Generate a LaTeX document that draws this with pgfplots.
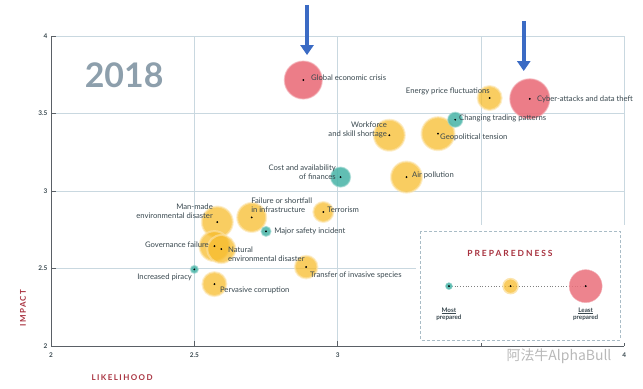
\documentclass[border=0pt]{standalone}
\usepackage{fontspec}
\setmainfont{Lato}
\newfontfamily\cjk{Noto Sans CJK SC}
\usepackage{pgfplots}
\usepackage{pgfplotstable}
\pgfplotsset{compat=1.18}
\usetikzlibrary{arrows.meta}
\definecolor{gridc}{HTML}{C9D8E0}
\definecolor{axc}{HTML}{5A6066}
\definecolor{txt}{HTML}{38474E}
\definecolor{redb}{HTML}{EA6F7B}
\definecolor{yelb}{HTML}{F7BC2C}
\definecolor{teab}{HTML}{45B3A6}
\definecolor{lab}{HTML}{A8323F}
\definecolor{yr}{HTML}{8D9FAC}
\definecolor{arr}{HTML}{3B6BC4}
\definecolor{boxc}{HTML}{A9BCC6}

\pgfplotstableread{
x y r
2.88 3.716 19
3.67 3.595 20
}\redtab
\pgfplotstableread{
x y r
3.53 3.60 12
3.18 3.36 15.5
3.35 3.37 16.5
3.24 3.09 15.5
2.58 2.80 15.5
2.70 2.83 14.5
2.95 2.865 10
2.57 2.645 15
2.594 2.626 14
2.89 2.51 11.3
2.57 2.40 12
}\yeltab
\pgfplotstableread{
x y r
3.41 3.46 7.5
3.01 3.09 10
2.75 2.74 5
2.50 2.495 4
}\teatab
\pgfplotstableread{
x y r c
3.388 2.387 3.5 0
3.603 2.387 7.5 1
3.865 2.387 16.5 2
}\legtab

\newcommand{\lbl}{\fontsize{7.7}{9}\selectfont}
\tikzset{lb/.style={font=\lbl, text=txt, inner sep=0pt}}

\begin{document}
\begin{tikzpicture}
\begin{axis}[
  set layers=standard,
  scale only axis, width=573bp, height=310bp,
  xmin=2, xmax=4, ymin=2, ymax=4,
  xtick={2,2.5,3,3.5,4}, ytick={2,2.5,3,3.5,4},
  xticklabels={2,2.5,3,,4}, yticklabels={2,2.5,3,3.5,4},
  grid=major, major grid style={gridc, line width=0.8bp},
  axis x line*=bottom, axis y line*=left,
  axis line style={axc, line width=0.9bp, -},
  tick align=inside, major tick length=5bp,
  tick style={axc, line width=0.8bp},
  tick label style={font=\bfseries\fontsize{6.5}{7}\selectfont, text=txt},
  xticklabel style={yshift=-3bp},
  clip=false,
]
\path (axis cs:1.822,1.729) rectangle (axis cs:4.065,4.232);

% bubbles
\addplot[scatter, only marks, mark=*,
  scatter/use mapped color={draw=yelb!40!white, fill=yelb, line width=2bp, fill opacity=0.75, draw opacity=0.6},
  visualization depends on={\thisrow{r}\as\rr},
  scatter/@pre marker code/.append style={/tikz/mark size=\rr bp}] table {\yeltab};
\addplot[scatter, only marks, mark=*,
  scatter/use mapped color={draw=teab!50!white, fill=teab, line width=1.2bp, fill opacity=0.85, draw opacity=0.6},
  visualization depends on={\thisrow{r}\as\rr},
  scatter/@pre marker code/.append style={/tikz/mark size=\rr bp}] table {\teatab};
\addplot[scatter, only marks, mark=*,
  scatter/use mapped color={draw=redb!50!white, fill=redb, line width=1.2bp, fill opacity=0.9, draw opacity=0.6},
  visualization depends on={\thisrow{r}\as\rr},
  scatter/@pre marker code/.append style={/tikz/mark size=\rr bp}] table {\redtab};
\addplot[only marks, mark=*, mark size=0.7bp, black] table {\yeltab};
\addplot[only marks, mark=*, mark size=0.7bp, black] table {\teatab};
\addplot[only marks, mark=*, mark size=0.7bp, black] table {\redtab};

% legend box
\fill[white] (axis cs:3.273,2.781) rectangle (axis cs:4.01,2.019);
\draw[boxc, line width=0.9bp, dash pattern=on 3bp off 2bp] (axis cs:3.290,2.742) rectangle (axis cs:3.985,2.039);
\addplot[gray, dotted, line width=0.8bp] table[x=x, y=y] {\legtab};
\addplot[scatter, only marks, mark=*,
  point meta=explicit symbolic,
  scatter/classes={0={draw=teab!50!white, fill=teab}, 1={draw=yelb!40!white, fill=yelb, line width=1.5bp, fill opacity=0.75}, 2={draw=redb!50!white, fill=redb}},
  visualization depends on={\thisrow{r}\as\rr},
  scatter/@pre marker code/.append style={/tikz/mark size=\rr bp},
  fill opacity=0.85] table[meta=c] {\legtab};
\addplot[only marks, mark=*, mark size=0.7bp, black] table {\legtab};

\begin{pgfonlayer}{axis foreground}
% labels
\node[lb, anchor=west] at (axis cs:2.907,3.729) {Global economic crisis};
\node[lb, anchor=east] at (axis cs:3.531,3.645) {Energy price fluctuations};
\node[lb, anchor=west] at (axis cs:3.695,3.594) {Cyber-attacks and data theft};
\node[lb, anchor=west] at (axis cs:3.423,3.471) {Changing trading patterns};
\node[lb, anchor=east, align=right] at (axis cs:3.172,3.397) {Workforce\\and skill shortage};
\node[lb, anchor=west] at (axis cs:3.357,3.348) {Geopolitical tension};
\node[lb, anchor=east, align=right] at (axis cs:2.994,3.119) {Cost and availability\\of finances};
\node[lb, anchor=west] at (axis cs:3.259,3.099) {Air pollution};
\node[lb, anchor=east, align=right] at (axis cs:2.565,2.868) {Man-made\\environmental disaster};
\node[lb, anchor=west, align=left] at (axis cs:2.698,2.906) {Failure or shortfall\\in infrastructure};
\node[lb, anchor=west] at (axis cs:2.963,2.877) {Terrorism};
\node[lb, anchor=west] at (axis cs:2.778,2.742) {Major safety incident};
\node[lb, anchor=east] at (axis cs:2.551,2.654) {Governance failure};
\node[lb, anchor=west, align=left] at (axis cs:2.617,2.595) {Natural\\environmental disaster};
\node[lb, anchor=east] at (axis cs:2.492,2.447) {Increased piracy};
\node[lb, anchor=west] at (axis cs:2.903,2.454) {Transfer of invasive species};
\node[lb, anchor=west] at (axis cs:2.589,2.363) {Pervasive corruption};

% year
\node[font=\bfseries\fontsize{34}{34}\selectfont, text=yr] at (axis cs:2.255,3.748) {2018};

% axis titles
\node[rotate=90, font=\bfseries\fontsize{8}{8}\selectfont\addfontfeatures{LetterSpace=18}, text=lab] at (axis cs:1.902,2.245) {IMPACT};
\node[font=\bfseries\fontsize{8}{8}\selectfont\addfontfeatures{LetterSpace=18}, text=lab] at (axis cs:2.248,1.80) {LIKELIHOOD};

% arrows
\draw[arr, line width=4bp, -{Triangle[width=13bp,length=10bp]}] (axis cs:2.893,4.20) -- (axis cs:2.893,3.877);
\draw[arr, line width=4bp, -{Triangle[width=13bp,length=10bp]}] (axis cs:3.649,4.097) -- (axis cs:3.649,3.774);

% legend texts
\node[font=\bfseries\fontsize{8.5}{8.5}\selectfont\addfontfeatures{LetterSpace=23}, text=lab] at (axis cs:3.601,2.60) {PREPAREDNESS};
\node[font=\bfseries\fontsize{6.3}{7.5}\selectfont, text=txt, align=center] at (axis cs:3.388,2.206) {\underline{Most}\\prepared};
\node[font=\bfseries\fontsize{6.3}{7.5}\selectfont, text=txt, align=center] at (axis cs:3.865,2.206) {\underline{Least}\\prepared};

% watermark
\node[font=\cjk\fontsize{14}{14}\selectfont, text=black!28] at (axis cs:3.772,1.935) {阿法牛AlphaBull};
\end{pgfonlayer}
\end{axis}
\end{tikzpicture}
\end{document}
